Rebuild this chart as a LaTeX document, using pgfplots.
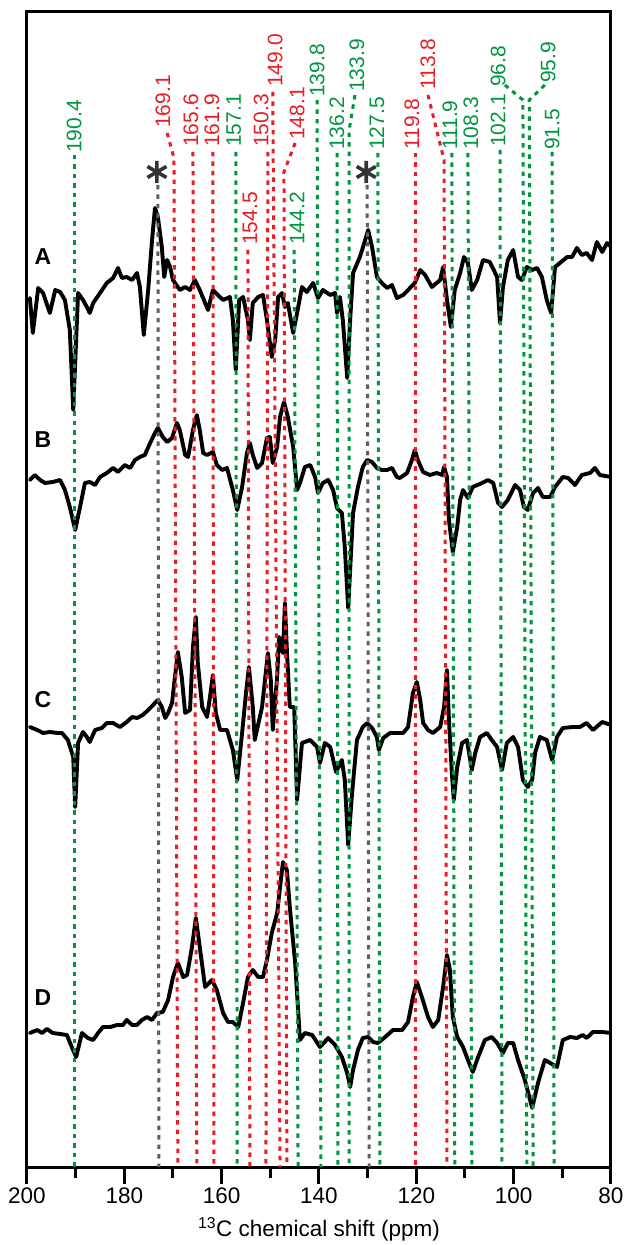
\documentclass[border=0pt]{standalone}
\usepackage{fontspec}
\setmainfont{Liberation Sans}
\usepackage{pgfplots}
\pgfplotsset{compat=1.18}
\definecolor{pkgreen}{RGB}{0,150,64}
\definecolor{pkred}{RGB}{232,30,36}
\definecolor{pkgray}{RGB}{95,95,95}
\newcommand\lf{\fontsize{21}{25}\selectfont}
\newcommand\tf{\fontsize{22.5}{27}\selectfont}
\begin{document}
\begin{tikzpicture}[lab/.style={rotate=90, anchor=west, inner sep=0pt, font=\lf}]
\begin{axis}[
    scale only axis,
    width=584pt, height=1155pt,
    x dir=reverse,
    xmin=80, xmax=200, ymin=0, ymax=1155,
    xtick={80,100,...,200}, minor x tick num=1,
    ytick=\empty, xtick pos=bottom,
    tick align=outside,
    major tick length=17pt, minor tick length=11pt,
    every tick/.style={black, line width=3pt},
    axis line style={line width=3pt},
    /pgf/number format/assume math mode=true,
    ticklabel style={font=\tf},
    xlabel={\textsuperscript{13}C chemical shift (ppm)},
    xlabel style={font=\tf, at={(axis description cs:0.5,-0.054)}, anchor=center},
    spec/.style={black, line width=3.9pt, line join=round, line cap=round, forget plot},
    mk/.style={dash pattern=on 4.5pt off 5pt, line width=3pt, forget plot},
]

% --- spectrum A ---
\addplot[spec] coordinates {
(199.4,869) (198.8,834) (197.7,879) (196.7,874) (195.3,854) (194.2,877) (193.2,875) (192.2,867)
(191.2,837) (190.5,757) (189.5,874) (188.5,867) (187.7,860) (187.1,854) (186.4,864) (185.0,874)
(183.6,884) (182.3,889) (181.3,899) (180.5,889) (179.5,890) (178.4,887) (177.4,894) (176.8,880)
(176.0,832) (175.1,877) (174.3,927) (173.7,959) (173.1,950) (172.3,920) (171.8,890) (171.2,907)
(170.6,900) (170.0,887) (168.6,877) (167.5,880) (166.5,877) (165.5,887) (164.5,877) (163.4,864)
(162.8,857) (161.8,877) (160.8,872) (159.7,867) (158.3,870) (157.7,847) (157.1,797) (156.4,867)
(155.6,870) (154.6,847) (154.2,827) (153.6,864) (152.5,870) (151.5,872) (150.7,847) (149.7,810)
(149.0,827) (148.4,870) (147.6,874) (147.0,860) (146.4,864) (145.3,834) (144.5,854) (143.5,880)
(142.5,875) (141.2,884) (140.2,869) (139.2,877) (137.7,872) (136.7,874) (136.3,854) (135.7,870)
(135.1,847) (134.2,789) (133.6,847) (133.0,894) (131.6,910) (130.5,927) (129.9,937) (129.1,920)
(128.1,890) (127.1,884) (126.0,879) (125.0,882) (124.0,869) (122.7,872) (121.7,877) (120.3,884)
(119.2,897) (118.2,892) (116.8,880) (115.1,887) (114.5,900) (113.7,867) (112.9,840) (112.1,877)
(111.0,894) (110.2,910) (109.4,904) (108.6,877) (107.5,887) (106.3,907) (104.9,905) (103.4,890)
(102.8,844) (102.2,880) (101.2,907) (100.1,917) (99.1,890) (98.3,887) (97.3,900) (96.2,897)
(95.2,899) (94.2,890) (93.2,867) (92.3,854) (91.5,900) (90.5,904) (89.0,910) (88.0,910)
(87.0,919) (86.0,912) (85.0,914) (83.9,907) (82.9,925) (81.8,915) (80.8,924) (80.0,920)
};

% --- spectrum B ---
\addplot[spec] coordinates {
(199.4,687) (198.4,692) (197.3,687) (196.3,684) (194.7,685) (193.2,687) (192.2,677) (191.2,660)
(190.1,637) (189.1,660) (188.1,684) (187.1,685) (186.0,682) (185.0,690) (183.6,694) (182.3,699)
(181.3,695) (179.9,702) (178.8,699) (177.8,707) (176.8,710) (175.8,712) (174.7,724) (173.7,734)
(173.1,739) (172.1,730) (171.2,725) (170.2,729) (169.2,744) (168.6,737) (167.5,712) (166.9,710)
(165.9,737) (165.1,752) (164.5,737) (163.8,714) (163.0,712) (161.8,715) (161.0,702) (159.9,697)
(158.9,699) (157.7,677) (156.8,657) (155.8,680) (154.8,714) (154.2,724) (153.6,712) (152.7,699)
(151.7,704) (150.7,729) (150.1,730) (149.5,704) (148.6,720) (148.0,750) (147.2,765) (146.4,750)
(145.3,720) (144.5,677) (143.9,684) (142.9,700) (141.8,702) (140.8,690) (140.2,674) (139.2,684)
(138.1,687) (137.1,677) (136.3,659) (135.3,654) (134.7,620) (134.0,559) (133.0,654) (132.0,680)
(131.0,700) (130.1,707) (129.1,705) (128.1,699) (127.1,697) (126.0,697) (125.0,699) (124.0,690)
(123.4,689) (121.9,694) (120.9,707) (120.3,717) (119.7,707) (118.6,695) (117.2,692) (115.8,694)
(114.7,692) (114.3,700) (113.7,690) (113.3,647) (112.5,615) (111.6,640) (111.0,667) (110.4,677)
(109.4,669) (108.4,680) (106.5,684) (105.3,687) (104.2,684) (103.2,664) (102.4,660) (101.2,667)
(99.7,682) (98.7,677) (97.9,660) (97.1,657) (96.0,674) (95.0,679) (94.0,670) (92.5,670)
(91.5,680) (89.9,690) (88.8,689) (87.4,682) (86.0,692) (84.3,694) (83.3,699) (82.3,692) (80.0,690)
};

% --- spectrum C ---
\addplot[spec] coordinates {
(199.4,440) (197.9,437) (196.7,434) (195.3,435) (193.8,434) (192.8,434) (191.6,427) (190.5,410)
(190.1,360) (189.5,424) (188.5,435) (187.7,430) (187.1,425) (186.0,437) (184.6,439) (183.6,444)
(182.3,444) (180.9,440) (179.5,445) (178.4,450) (177.4,449) (176.2,452) (175.1,457) (174.1,462)
(173.1,467) (172.3,460) (171.6,449) (171.0,454) (170.2,464) (169.6,490) (169.0,515) (168.2,490)
(167.5,454) (166.5,457) (165.9,520) (165.3,550) (164.9,504) (164.0,460) (163.0,450) (162.4,470)
(161.8,492) (161.2,454) (160.3,437) (158.9,437) (157.7,417) (156.8,387) (155.8,434) (155.0,474)
(154.4,500) (153.6,460) (153.2,427) (151.7,460) (150.5,514) (149.9,487) (149.5,437) (148.6,490)
(148.2,530) (147.4,514) (147.0,564) (146.6,517) (146.0,460) (145.1,460) (144.5,367) (143.5,424)
(141.8,427) (140.4,420) (139.8,404) (138.8,424) (137.7,420) (136.5,395) (135.3,407) (134.7,387)
(134.0,322) (133.2,374) (132.2,427) (131.0,440) (130.1,444) (129.1,439) (128.1,430) (127.7,417)
(126.8,429) (125.4,434) (124.0,434) (122.7,434) (121.7,440) (120.7,474) (119.9,485) (119.2,467)
(118.6,444) (117.6,437) (116.6,434) (115.1,440) (114.3,460) (113.7,497) (113.3,447) (112.7,394)
(112.3,367) (111.6,400) (110.6,424) (109.6,427) (108.6,397) (107.9,414) (106.9,430) (105.5,434)
(104.5,427) (103.4,420) (102.4,397) (101.4,424) (100.1,430) (99.1,420) (98.1,387) (97.1,380)
(96.2,387) (95.6,414) (94.6,430) (93.2,427) (92.1,407) (91.1,430) (89.9,439) (87.8,440)
(86.4,440) (85.0,444) (83.7,437) (81.8,445) (80.0,442)
};

% --- spectrum D ---
\addplot[spec] coordinates {
(199.4,134) (197.9,137) (196.9,134) (195.9,138) (194.7,134) (193.2,133) (191.8,132) (190.8,120)
(189.9,110) (188.7,134) (187.5,129) (186.4,127) (185.4,134) (184.4,140) (182.9,140) (181.5,142)
(180.3,142) (179.5,147) (178.4,142) (177.4,142) (176.4,147) (175.3,150) (174.3,147) (173.3,154)
(172.1,155) (171.0,167) (170.0,190) (169.0,204) (167.9,190) (167.1,192) (166.1,220) (165.3,249)
(164.5,220) (163.4,180) (162.0,187) (161.0,177) (159.7,154) (158.7,145) (157.7,145) (156.6,140)
(155.6,164) (154.6,190) (153.6,197) (152.5,190) (151.5,190) (150.7,207) (149.7,234) (148.6,254)
(148.0,280) (147.4,305) (146.6,297) (146.0,260) (144.9,204) (143.9,127) (142.9,134) (141.4,132)
(139.8,120) (138.1,129) (136.7,122) (135.3,110) (134.2,94) (133.6,80) (133.0,97) (132.0,117)
(131.0,129) (129.9,130) (128.9,125) (127.9,124) (126.4,130) (124.8,137) (122.9,137) (121.7,145)
(120.7,170) (119.9,185) (118.8,169) (117.6,150) (116.6,140) (115.5,147) (114.5,180) (113.7,212)
(113.1,197) (112.5,150) (111.6,130) (110.4,120) (109.4,107) (108.4,95) (107.3,110) (105.9,127)
(104.5,130) (103.4,124) (102.2,114) (101.2,124) (100.1,124) (99.1,107) (97.7,87) (96.2,59)
(95.0,84) (93.6,107) (92.5,104) (91.1,100) (89.9,127) (88.4,130) (87.0,129) (85.8,132)
(85.0,129) (83.7,135) (81.8,135) (80.0,134)
};

% --- assignment lines ---
\addplot[mk, pkgray]  coordinates {(173.1,982) (172.9,0)};
\addplot[mk, pkgray]  coordinates {(130.1,982) (129.7,0)};
\addplot[mk, pkgreen] coordinates {(190.3,1012) (190.3,0)};
\addplot[mk, pkred]   coordinates {(171.2,1034) (169.8,1009) (169.0,0)};
\addplot[mk, pkred]   coordinates {(165.9,1015) (165.1,0)};
\addplot[mk, pkred]   coordinates {(161.8,1015) (161.6,0)};
\addplot[mk, pkgreen] coordinates {(157.1,1015) (156.8,0)};
\addplot[mk, pkred]   coordinates {(154.6,917) (154.2,0)};
\addplot[mk, pkred]   coordinates {(150.5,1015) (150.9,0)};
\addplot[mk, pkred]   coordinates {(149.5,1075) (148.0,0)};
\addplot[mk, pkred]   coordinates {(144.9,1024) (147.2,995) (146.6,0)};
\addplot[mk, pkgreen] coordinates {(145.1,917) (144.3,0)};
\addplot[mk, pkgreen] coordinates {(140.4,1067) (139.6,0)};
\addplot[mk, pkgreen] coordinates {(136.3,1014) (136.1,0)};
\addplot[mk, pkgreen] coordinates {(132.6,1072) (133.8,1037) (133.8,0)};
\addplot[mk, pkgreen] coordinates {(127.9,1014) (127.5,0)};
\addplot[mk, pkred]   coordinates {(120.1,1014) (120.1,0)};
\addplot[mk, pkred]   coordinates {(117.6,1072) (114.3,1007) (113.7,0)};
\addplot[mk, pkgreen] coordinates {(112.7,1014) (112.1,0)};
\addplot[mk, pkgreen] coordinates {(109.4,1014) (108.6,0)};
\addplot[mk, pkgreen] coordinates {(102.8,1017) (102.4,0)};
\addplot[mk, pkgreen] coordinates {(101.8,1082) (98.1,1067) (97.3,0)};
\addplot[mk, pkgreen] coordinates {(93.6,1082) (96.8,1067) (96.0,0)};
\addplot[mk, pkgreen] coordinates {(92.1,1015) (91.7,0)};

% --- stars ---
\addplot[only marks, mark=asterisk, mark size=11pt, line width=3.6pt, black!80, forget plot]
    coordinates {(173.3,995) (130.3,995)};

% --- labels ---
\node[lab, text=pkgreen] at (axis cs:190.3,1014) {190.4};
\node[lab, text=pkred]   at (axis cs:172.1,1039) {169.1};
\node[lab, text=pkred]   at (axis cs:166.3,1020) {165.6};
\node[lab, text=pkred]   at (axis cs:162.0,1020) {161.9};
\node[lab, text=pkgreen] at (axis cs:157.5,1020) {157.1};
\node[lab, text=pkred]   at (axis cs:151.9,1020) {150.3};
\node[lab, text=pkred]   at (axis cs:149.0,1080) {149.0};
\node[lab, text=pkred]   at (axis cs:144.5,1027) {148.1};
\node[lab, text=pkred]   at (axis cs:154.2,922) {154.5};
\node[lab, text=pkgreen] at (axis cs:144.5,922) {144.2};
\node[lab, text=pkgreen] at (axis cs:140.4,1070) {139.8};
\node[lab, text=pkgreen] at (axis cs:136.3,1017) {136.2};
\node[lab, text=pkgreen] at (axis cs:132.2,1075) {133.9};
\node[lab, text=pkgreen] at (axis cs:128.1,1017) {127.5};
\node[lab, text=pkred]   at (axis cs:120.9,1017) {119.8};
\node[lab, text=pkred]   at (axis cs:117.6,1077) {113.8};
\node[lab, text=pkgreen] at (axis cs:113.1,1017) {111.9};
\node[lab, text=pkgreen] at (axis cs:108.8,1017) {108.3};
\node[lab, text=pkgreen] at (axis cs:103.2,1020) {102.1};
\node[lab, text=pkgreen] at (axis cs:103.2,1080) {96.8};
\node[lab, text=pkgreen] at (axis cs:92.9,1084) {95.9};
\node[lab, text=pkgreen] at (axis cs:92.1,1017) {91.5};

\node[font=\fontsize{23}{27}\selectfont\bfseries] at (axis cs:196.7,910) {A};
\node[font=\fontsize{23}{27}\selectfont\bfseries] at (axis cs:196.7,727) {B};
\node[font=\fontsize{23}{27}\selectfont\bfseries] at (axis cs:196.7,467) {C};
\node[font=\fontsize{23}{27}\selectfont\bfseries] at (axis cs:196.7,169) {D};
\end{axis}
\pgfresetboundingbox
\path[use as bounding box] ([shift={(-27pt,-78pt)}]current axis.south west)
    rectangle ([shift={(16pt,12pt)}]current axis.north east);
\end{tikzpicture}
\end{document}
